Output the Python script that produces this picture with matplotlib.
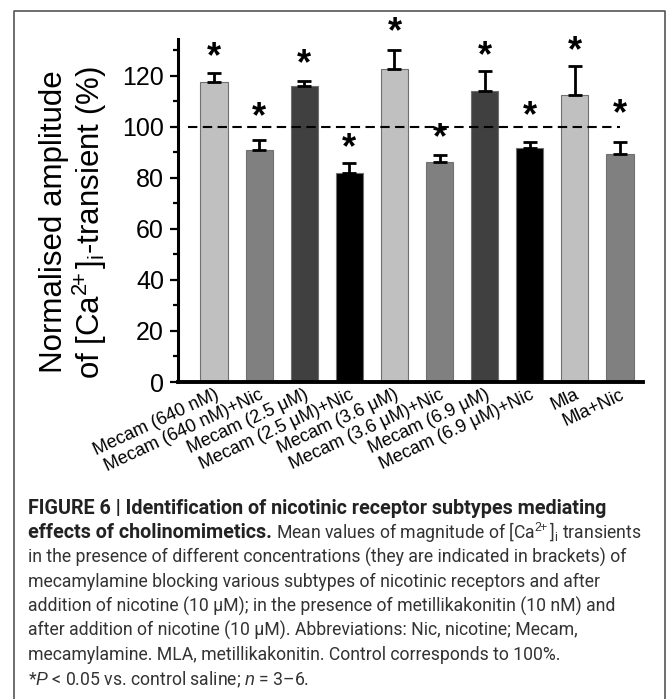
import matplotlib
matplotlib.use("Agg")
import matplotlib.pyplot as plt
from matplotlib import font_manager
from matplotlib.lines import Line2D
import numpy as np

# data
groups = ["Mecam (640 nM)", "Mecam (640 nM)+Nic",
          "Mecam (2.5 \u03bcM)", "Mecam (2.5 \u03bcM)+Nic",
          "Mecam (3.6 \u03bcM)", "Mecam (3.6 \u03bcM)+Nic",
          "Mecam (6.9 \u03bcM)", "Mecam (6.9 \u03bcM)+Nic",
          "Mla", "Mla+Nic"]
amplitude = [117.5, 91.0, 116.0, 81.8, 122.8, 86.4, 114.2, 91.9, 112.7, 89.3]
sem = [3.6, 3.7, 2.0, 4.0, 7.5, 2.6, 7.6, 2.1, 11.3, 4.7]
star_level = [127.0, 103.5, 124.3, 91.4, 137.0, 95.3, 127.6, 104.0, 129.5, 104.7]
control = 100
bar_colors = ["#c0c0c0", "#808080", "#404040", "#000000",
              "#c0c0c0", "#808080", "#404040", "#000000",
              "#c0c0c0", "#808080"]

names = [f.name for f in font_manager.fontManager.ttflist]
sans = "Liberation Sans"
narrow = "Liberation Sans Narrow" if "Liberation Sans Narrow" in names else "Roboto"

plt.rcParams["font.family"] = [sans, "DejaVu Sans"]
plt.rcParams["mathtext.fontset"] = "custom"
plt.rcParams["mathtext.rm"] = sans
plt.rcParams["mathtext.it"] = sans + ":italic"
plt.rcParams["mathtext.bf"] = sans + ":bold"

W, H = 670, 699
fig = plt.figure(figsize=(W / 100, H / 100), dpi=100)


def fx(px):
    return px / W


def fy(py):
    return 1 - py / H


# frame around figure
fig.add_artist(Line2D([fx(14), fx(14), fx(665), fx(665)],
                      [fy(H + 5), fy(11), fy(11), fy(H + 5)],
                      color="#555555", lw=1.2))

ax = fig.add_axes([fx(178), fy(382), fx(643) - fx(178), fy(39) - fy(382)])
x = np.arange(len(groups))
ax.bar(x, amplitude, width=0.6, color=bar_colors, edgecolor="#707070", linewidth=0.8, zorder=2)
ax.errorbar(x, amplitude, yerr=[np.zeros(len(sem)), sem], fmt="none",
            ecolor="black", elinewidth=2, capsize=5, capthick=2, zorder=3)
ax.plot([-0.58, 9.0], [control, control], color="black", lw=1.5,
        dashes=(4.5, 2.6), zorder=4)
for xi, s in zip(x, star_level):
    ax.text(xi, s, "*", ha="center", va="center", fontsize=26,
            fontweight="bold", clip_on=False)

ax.set_xlim(-0.798, 9.51)
ax.set_ylim(0, 134.5)
ax.set_yticks(np.arange(0, 121, 20))
ax.set_yticks(np.arange(10, 131, 20), minor=True)
ax.spines["top"].set_visible(False)
ax.spines["right"].set_visible(False)
ax.spines["left"].set_linewidth(2.2)
ax.spines["bottom"].set_linewidth(2.8)
ax.tick_params(axis="y", which="major", length=6, width=1.6, labelsize=18, pad=4)
ax.tick_params(axis="y", which="minor", length=3.5, width=1.6)
ax.tick_params(axis="x", length=0, pad=3)
ax.set_xticks(x)
ax.set_xticklabels(groups, rotation=25, ha="right", va="top",
                   rotation_mode="anchor", fontsize=13)

# y label, two lines
fig.text(fx(62), fy(222), "Normalised amplitude", rotation=90,
         rotation_mode="anchor", ha="center", va="baseline", fontsize=22.5)
fig.text(fx(100), fy(222), "of [Ca$^{2\\!\\!+}$]$_{\\mathrm{i}}$-transient (%)", rotation=90,
         rotation_mode="anchor", ha="center", va="baseline", fontsize=22.5)

# caption
title = "FIGURE 6 | Identification of nicotinic receptor subtypes mediating"
lines = ["in the presence of different concentrations (they are indicated in brackets) of",
         "mecamylamine blocking various subtypes of nicotinic receptors and after",
         "addition of nicotine (10 \u03bcM); in the presence of metillikakonitin (10 nM) and",
         "after addition of nicotine (10 \u03bcM). Abbreviations: Nic, nicotine; Mecam,",
         "mecamylamine. MLA, metillikakonitin. Control corresponds to 100%.",
         "*$P$ < 0.05 vs. control saline; $n$ = 3\u20136."]
cap_family = [narrow, "DejaVu Sans"]
renderer = fig.canvas.get_renderer()
probe = fig.text(0, 0, lines[0], family=cap_family, fontsize=14)
cap_size = 14 * 605 / probe.get_window_extent(renderer).width
probe.remove()
probe = fig.text(0, 0, title, family=cap_family, fontweight="bold", fontsize=14)
bold_size = 14 * 582 / probe.get_window_extent(renderer).width
probe.remove()

lx = fx(28)
ly = [508 + 24.5 * k for k in range(8)]
fig.text(lx, fy(ly[0]), title,
         family=cap_family, fontweight="bold", fontsize=bold_size,
         va="center", color="#222222")
b = fig.text(lx, fy(ly[1]), "effects of cholinomimetics.",
             family=cap_family, fontweight="bold", fontsize=bold_size,
             va="center", color="#222222")
bb = b.get_window_extent(renderer)
fig.text(bb.x1 / W + 0.006, fy(ly[1]),
         "Mean values of magnitude of [Ca$^{2\\!\\!+}$]$_{\\mathrm{i}}$ transients",
         family=cap_family, fontsize=cap_size, va="center", color="#333333")
for k, line in enumerate(lines):
    fig.text(lx, fy(ly[k + 2]), line, family=cap_family,
             fontsize=cap_size, va="center", color="#333333")

fig.savefig("out.png", dpi=100)
